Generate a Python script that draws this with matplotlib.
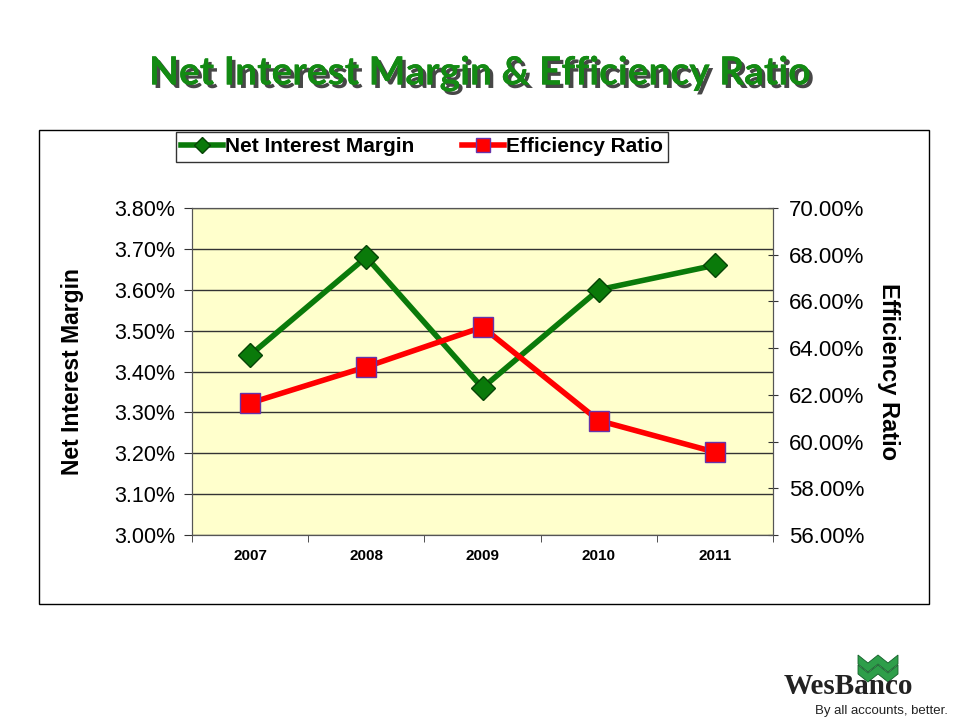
import matplotlib
matplotlib.use("Agg")
import matplotlib.pyplot as plt
import matplotlib.patheffects as pe
from matplotlib.patches import Rectangle, Polygon
from matplotlib.ticker import FixedLocator, PercentFormatter

years = ["2007", "2008", "2009", "2010", "2011"]
nim = [3.44, 3.68, 3.36, 3.60, 3.66]
eff = [61.65, 63.2, 64.9, 60.9, 59.55]
nim_ticks = [3.00, 3.10, 3.20, 3.30, 3.40, 3.50, 3.60, 3.70, 3.80]
eff_ticks = [56, 58, 60, 62, 64, 66, 68, 70]

plt.rcParams['font.family'] = ['Liberation Sans', 'DejaVu Sans']

fig = plt.figure(figsize=(9.6, 7.2), dpi=100)
W, H = 960, 720

def fx(x): return x / W
def fy(y): return 1 - y / H

# outer chart frame
fig.patches.append(Rectangle((fx(39), fy(604)), fx(929) - fx(39), fy(130) - fy(604),
                             transform=fig.transFigure, fill=False, edgecolor='black', lw=1.0))

# title
fig.text(fx(480), fy(73), "Net Interest Margin & Efficiency Ratio", ha='center', va='center',
         fontsize=28, fontweight='bold', color='#138A13', family=['Lato', 'DejaVu Sans'],
         path_effects=[pe.withSimplePatchShadow(offset=(2.5, -2.5), shadow_rgbFace='#333333', alpha=0.9),
                       pe.Normal()])

ax = fig.add_axes([fx(192), fy(535), fx(773) - fx(192), fy(208) - fy(535)])
ax.set_facecolor('#FFFFCC')
x = list(range(len(years)))
green = '#0A7A0A'
red = '#FF0000'
l1, = ax.plot(x, nim, color=green, lw=4, marker='D', markersize=12,
              markerfacecolor='#0A7A0A', markeredgecolor='#064406', markeredgewidth=1, zorder=4,
              label='Net Interest Margin')
ax.set_xlim(-0.5, len(years) - 0.5)
ax.set_ylim(nim_ticks[0], nim_ticks[-1])
ax.yaxis.set_major_locator(FixedLocator(nim_ticks))
ax.yaxis.set_major_formatter(PercentFormatter(decimals=2))
ax.grid(axis='y', color='#333333', lw=1)
ax.set_axisbelow(True)
ax.set_xticks(x)
ax.set_xticklabels(years, fontsize=11, fontweight='bold')
ax.xaxis.set_minor_locator(FixedLocator([i - 0.5 for i in range(len(years) + 1)]))
ax.tick_params(axis='x', which='major', length=0, pad=10)
ax.tick_params(axis='x', which='minor', length=5, direction='out', color='#333333')
ax.tick_params(axis='y', labelsize=15.5, length=6, color='#333333', pad=6)
ax.set_ylabel("Net Interest Margin", fontsize=16.5, fontweight='bold')
for s in ax.spines.values():
    s.set_color('#555555')

ax2 = ax.twinx()
l2, = ax2.plot(x, eff, color=red, lw=4, marker='s', markersize=14,
               markerfacecolor=red, markeredgecolor='#6633AA', markeredgewidth=1, zorder=4,
               label='Efficiency Ratio')
ax2.set_ylim(eff_ticks[0], eff_ticks[-1])
ax2.yaxis.set_major_locator(FixedLocator(eff_ticks))
ax2.yaxis.set_major_formatter(PercentFormatter(decimals=2))
ax2.tick_params(axis='y', labelsize=16, length=7, direction='inout', color='#333333', pad=8)
ax2.set_ylabel("Efficiency Ratio", fontsize=17, fontweight='bold', rotation=-90)
axw = fx(773) - fx(192)
ax2.yaxis.set_label_coords((fx(900) - fx(192)) / axw, 0.5)
ax.yaxis.set_label_coords(-(fx(192) - fx(84)) / axw, 0.5)
for s in ax2.spines.values():
    s.set_color('#555555')

leg = fig.legend(handles=[l1, l2], loc='center', bbox_to_anchor=(fx(422), fy(147)), ncol=2,
                 frameon=True, fancybox=False, edgecolor='black',
                 handlelength=2.0, handletextpad=0.1, columnspacing=2.3, borderpad=0.25,
                 prop={'weight': 'bold', 'size': 15}, markerscale=0.7)
leg.get_frame().set_linewidth(1.0)

# logo
fig.text(fx(848), fy(694), "WesBanco", ha='center', va='baseline', fontsize=21, fontweight='bold',
         family=['Liberation Serif', 'DejaVu Serif'], color='#222222')
fig.text(fx(881), fy(711), "By all accounts, better.", ha='center', va='center', fontsize=9.5,
         color='#222222')
for dy in (0, 10):
    xs = [858, 868, 878, 888, 898, 898, 888, 878, 868, 858]
    ys = [660, 668, 660, 668, 660, 669, 677, 669, 677, 669]
    fig.patches.append(Polygon([(fx(a), fy(b + dy - 5)) for a, b in zip(xs, ys)], closed=True,
                               transform=fig.transFigure, facecolor='#2E9E4A',
                               edgecolor='#14602A', lw=0.6))

fig.savefig("out.png", dpi=100)
